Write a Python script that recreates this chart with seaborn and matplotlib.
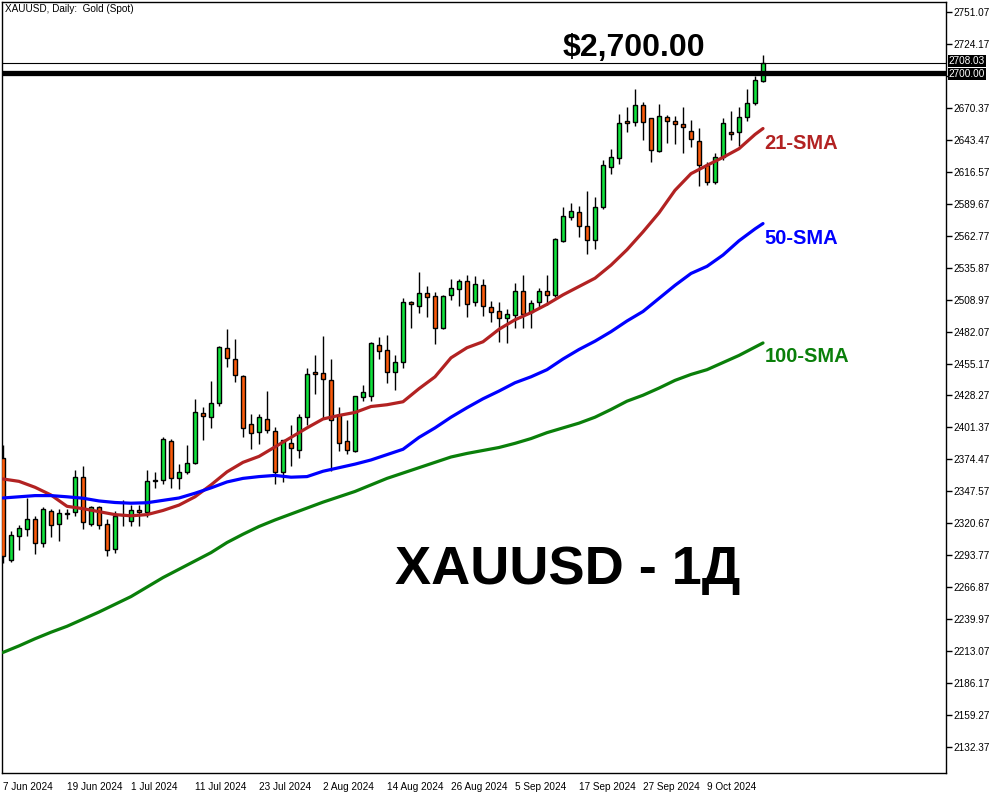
import matplotlib
matplotlib.use("Agg")
import matplotlib.pyplot as plt
import matplotlib.transforms as mtransforms
import seaborn as sns
import pandas as pd

# daily candles, first bar = 7 Jun 2024, last = 18 Oct 2024
opens = [2376, 2290, 2310, 2316, 2324.5, 2304, 2331, 2320, 2329, 2330,
         2359.5, 2320.5, 2334, 2320, 2299, 2327.5, 2323, 2332, 2330, 2356.5,
         2356.8, 2389.6, 2358.5, 2363.5, 2371.5, 2413.2, 2410.4, 2421.6, 2467.9, 2458.7,
         2444.4, 2404, 2397.2, 2408.2, 2398.1, 2364.1, 2388, 2382.1, 2410.4, 2447.7,
         2446.9, 2441, 2411.8, 2389.6, 2381.2, 2426.7, 2428.1, 2470.5, 2466.2, 2447.7,
         2456.3, 2506.7, 2503.9, 2514.3, 2511.8, 2484.9, 2512.7, 2517.7, 2525, 2506.8,
         2521.1, 2502.6, 2499.7, 2493.3, 2496.1, 2516.6, 2498.9, 2506.8, 2516.6, 2512.9,
         2558.3, 2578.2, 2582.4, 2570.9, 2558.8, 2586.6, 2620.8, 2627.9, 2659.3, 2658.2,
         2672.8, 2661.5, 2634, 2662.4, 2659.3, 2656.5, 2651.1, 2642.4, 2622, 2607.7,
         2628.7, 2649.7, 2649.7, 2662.4, 2674.5, 2693.3]
highs = [2387, 2314, 2319, 2342, 2327, 2334, 2332.5, 2333, 2332.5, 2365.5,
         2369, 2335.5, 2335.5, 2324, 2331, 2340.5, 2336, 2336, 2365.5, 2363.5,
         2393, 2391.5, 2371, 2386.6, 2425.3, 2418.3, 2440.4, 2469.9, 2484.2, 2475.8,
         2445.5, 2412.7, 2412.7, 2432, 2401.4, 2391, 2403.4, 2412.9, 2451.1, 2462.3,
         2478.3, 2458.7, 2418.3, 2407.6, 2428, 2437.1, 2473, 2477.2, 2479.2, 2462,
         2510.1, 2508.2, 2532, 2520.5, 2515.2, 2512.9, 2526.1, 2526.4, 2529.8, 2528.9,
         2526.4, 2507.6, 2506.8, 2500.9, 2523.3, 2529.8, 2508.7, 2518.5, 2529.8, 2560.8,
         2587.2, 2590, 2587.7, 2600.4, 2595.6, 2626.5, 2635.7, 2665.2, 2671.4, 2686.2,
         2675, 2662, 2673.6, 2664.3, 2663.5, 2670.8, 2660.1, 2653.1, 2625.1, 2632.6,
         2661.5, 2667.7, 2670.8, 2686, 2697.2, 2714.9]
lows = [2287, 2288, 2298, 2310, 2295, 2301, 2309.5, 2306, 2324, 2327,
        2316, 2318, 2315.5, 2293.5, 2296, 2318.5, 2318, 2318.5, 2326, 2350.5,
        2354, 2350.6, 2349.2, 2362.5, 2370.6, 2390.8, 2401.1, 2419.7, 2451.9, 2439.9,
        2393.6, 2383.5, 2387.7, 2396.9, 2353.4, 2355.7, 2369.2, 2375.9, 2403.1, 2429.8,
        2409.6, 2364.4, 2381.8, 2378.7, 2380.4, 2423.9, 2423.9, 2458.7, 2438.5, 2432.6,
        2451.2, 2485.4, 2497.5, 2494.1, 2471.4, 2484.3, 2508.7, 2503.9, 2494.1, 2503.9,
        2495.3, 2490.5, 2473.7, 2472.3, 2484.9, 2485.4, 2485.4, 2503.1, 2504.5, 2511,
        2557.1, 2576, 2561.4, 2547.3, 2551.3, 2584.9, 2614.4, 2622.8, 2650.3, 2655.4,
        2643.3, 2625.1, 2633.5, 2641, 2639.9, 2632.1, 2637.7, 2604.9, 2605.4, 2606.3,
        2626.5, 2643.3, 2638.5, 2659.3, 2673, 2692.5]
closes = [2293, 2311, 2316.5, 2324.5, 2304, 2333, 2319, 2329, 2328.5, 2359.5,
          2321.5, 2334, 2319, 2298, 2327, 2328, 2332, 2330, 2356, 2357,
          2391.5, 2358.5, 2363.7, 2371.2, 2414.1, 2411.2, 2421.6, 2468.8, 2459.5, 2445.2,
          2400.6, 2396.4, 2409.8, 2398.9, 2364.1, 2390.5, 2383.8, 2410.4, 2446, 2446,
          2441.8, 2407.6, 2388, 2382.1, 2427.5, 2430.9, 2472.1, 2465.4, 2447.7, 2456.1,
          2507.3, 2505.1, 2514.3, 2511.5, 2484.9, 2511.8, 2518.5, 2524.4, 2505.1, 2521.9,
          2503.4, 2498.9, 2493.3, 2496.7, 2516.6, 2496.7, 2505.9, 2516.6, 2512.7, 2560,
          2579.3, 2583.5, 2570.9, 2558.8, 2586.9, 2622.2, 2628.7, 2657.9, 2657.3, 2672.8,
          2658.2, 2634.9, 2663.5, 2659, 2656.5, 2654.2, 2643.9, 2622, 2608.2, 2629.3,
          2657.3, 2648, 2662.9, 2674.5, 2693.8, 2708.03]

# moving averages, every second bar plus the last one
sma_bars = list(range(0, 96, 2)) + [95]
sma21 = [2358, 2356, 2351, 2344.5, 2335, 2333, 2330.5, 2328, 2327, 2328,
         2331.5, 2336, 2343, 2353, 2364, 2372, 2377, 2385, 2393, 2401,
         2408.5, 2411.5, 2414, 2419, 2420.5, 2423, 2434, 2444, 2460, 2468.5,
         2473.5, 2484, 2492, 2498, 2505, 2513, 2520, 2527, 2538, 2551,
         2566, 2582, 2601, 2615, 2622, 2628.7, 2636, 2648, 2653]
sma50 = [2342, 2343, 2344, 2344, 2343, 2341.8, 2339.5, 2338.2, 2337.6, 2338,
         2340, 2342, 2346, 2350.5, 2355.5, 2358.5, 2360, 2361, 2359.5, 2360,
         2364.5, 2367.5, 2370.5, 2374, 2378.5, 2383, 2393, 2401, 2410, 2418,
         2425.5, 2432, 2439, 2444, 2450, 2459, 2467, 2474, 2482, 2491,
         2499, 2510, 2521, 2531, 2537, 2546.5, 2558.5, 2568.5, 2573]
sma100 = [2212, 2217.5, 2223.5, 2229, 2234, 2240, 2246, 2252.5, 2259, 2267,
          2275, 2282, 2289, 2296, 2304.5, 2311.5, 2318, 2323.5, 2328.5, 2333.5,
          2338.5, 2343, 2347.5, 2353, 2358.5, 2363, 2367.5, 2372, 2376.5, 2379.5,
          2382, 2384.5, 2388, 2392, 2397, 2401, 2405, 2410, 2416.5, 2423.5,
          2428.5, 2434.5, 2441, 2446, 2450, 2456, 2462, 2469, 2472.5]

ytick_vals = [2132.37, 2159.27, 2186.17, 2213.07, 2239.97, 2266.87, 2293.77, 2320.67,
              2347.57, 2374.47, 2401.37, 2428.27, 2455.17, 2482.07, 2508.97, 2535.87,
              2562.77, 2589.67, 2616.57, 2643.47, 2670.37, 2697.27, 2724.17, 2751.07]
level = 2700.00
last_price = 2708.03

dates = pd.bdate_range("2024-06-07", periods=len(opens))
bars = list(range(len(opens)))

sns.set_theme(style="white")
plt.rcParams['font.family'] = ['Liberation Sans', 'DejaVu Sans']

fig = plt.figure(figsize=(10, 8), dpi=100)
ax = fig.add_axes([0.002, 0.03375, 0.944, 0.96375])

up_col = "#10E23C"
dn_col = "#FA5A0A"
cols = [up_col if c >= o else dn_col for o, c in zip(opens, closes)]
bottoms = [min(o, c) for o, c in zip(opens, closes)]
heights = [max(abs(c - o), 0.4) for o, c in zip(opens, closes)]

ax.vlines(bars, lows, highs, color="black", lw=1, zorder=2)
ax.bar(bars, heights, bottom=bottoms, width=0.62, color=cols,
       edgecolor="black", linewidth=1, zorder=3)

sns.lineplot(x=sma_bars, y=sma21, color="#B22222", lw=2.3, ax=ax, zorder=4)
sns.lineplot(x=sma_bars, y=sma50, color="#0000FF", lw=2.3, ax=ax, zorder=4)
sns.lineplot(x=sma_bars, y=sma100, color="#0A7F0A", lw=2.3, ax=ax, zorder=4)

ax.axhline(level, color="black", lw=3.8, zorder=5)
ax.axhline(last_price, color="black", lw=0.8, zorder=5)

ax.set_xlim(-0.125, 117.875)
ax.set_ylim(2110.5, 2759.5)

tick_pos = bars[::8][:12]
tick_lab = [f"{dates[i].day} {dates[i].strftime('%b %Y')}" for i in tick_pos]
ax.set_xticks(tick_pos)
ax.set_xticklabels(tick_lab, ha="left", fontsize=7.2)
ax.set_yticks(ytick_vals)
# the tick right under the 2700 box is hidden by the box in the terminal
ytick_lab = ["" if abs(v - level) < 5 else f"{v:.2f}" for v in ytick_vals]
ax.set_yticklabels(ytick_lab, fontsize=7.2)
ax.yaxis.tick_right()
ax.tick_params(axis="x", direction="out", length=5, width=1, pad=1.5, colors="black")
ax.tick_params(axis="y", direction="out", length=4, width=1, pad=1, colors="black")
ax.set_xlabel("")
ax.set_ylabel("")
for s in ax.spines.values():
    s.set_color("black")
    s.set_linewidth(1)

trans = mtransforms.blended_transform_factory(ax.transAxes, ax.transData)
ax.text(1.003, last_price + 1.5, f"{last_price:.2f}", transform=trans, ha="left",
        va="center", fontsize=7.2, color="white", zorder=6,
        bbox=dict(facecolor="black", edgecolor="none", pad=0.8))
ax.text(1.003, level - 1.0, f"{level:.2f}", transform=trans, ha="left",
        va="center", fontsize=7.2, color="white", zorder=6,
        bbox=dict(facecolor="black", edgecolor="none", pad=0.8))

ax.text(0.003, 0.997, "XAUUSD, Daily:  Gold (Spot)", transform=ax.transAxes,
        ha="left", va="top", fontsize=7.2, color="black")

ax.text(70, 2720.8, "$2,700.00", ha="left", va="center", fontsize=23,
        fontweight="bold", color="black")
ax.text(95.2, 2640.8, "21-SMA", ha="left", va="center", fontsize=14.5,
        fontweight="bold", color="#B22222")
ax.text(95.2, 2560.8, "50-SMA", ha="left", va="center", fontsize=14.5,
        fontweight="bold", color="#0000FF")
ax.text(95.2, 2460.7, "100-SMA", ha="left", va="center", fontsize=14.5,
        fontweight="bold", color="#0A7F0A")
ax.text(49, 2281.4, "XAUUSD - 1Д", ha="left", va="center", fontsize=39,
        fontweight="bold", color="black")

fig.savefig("out.png", dpi=100)
